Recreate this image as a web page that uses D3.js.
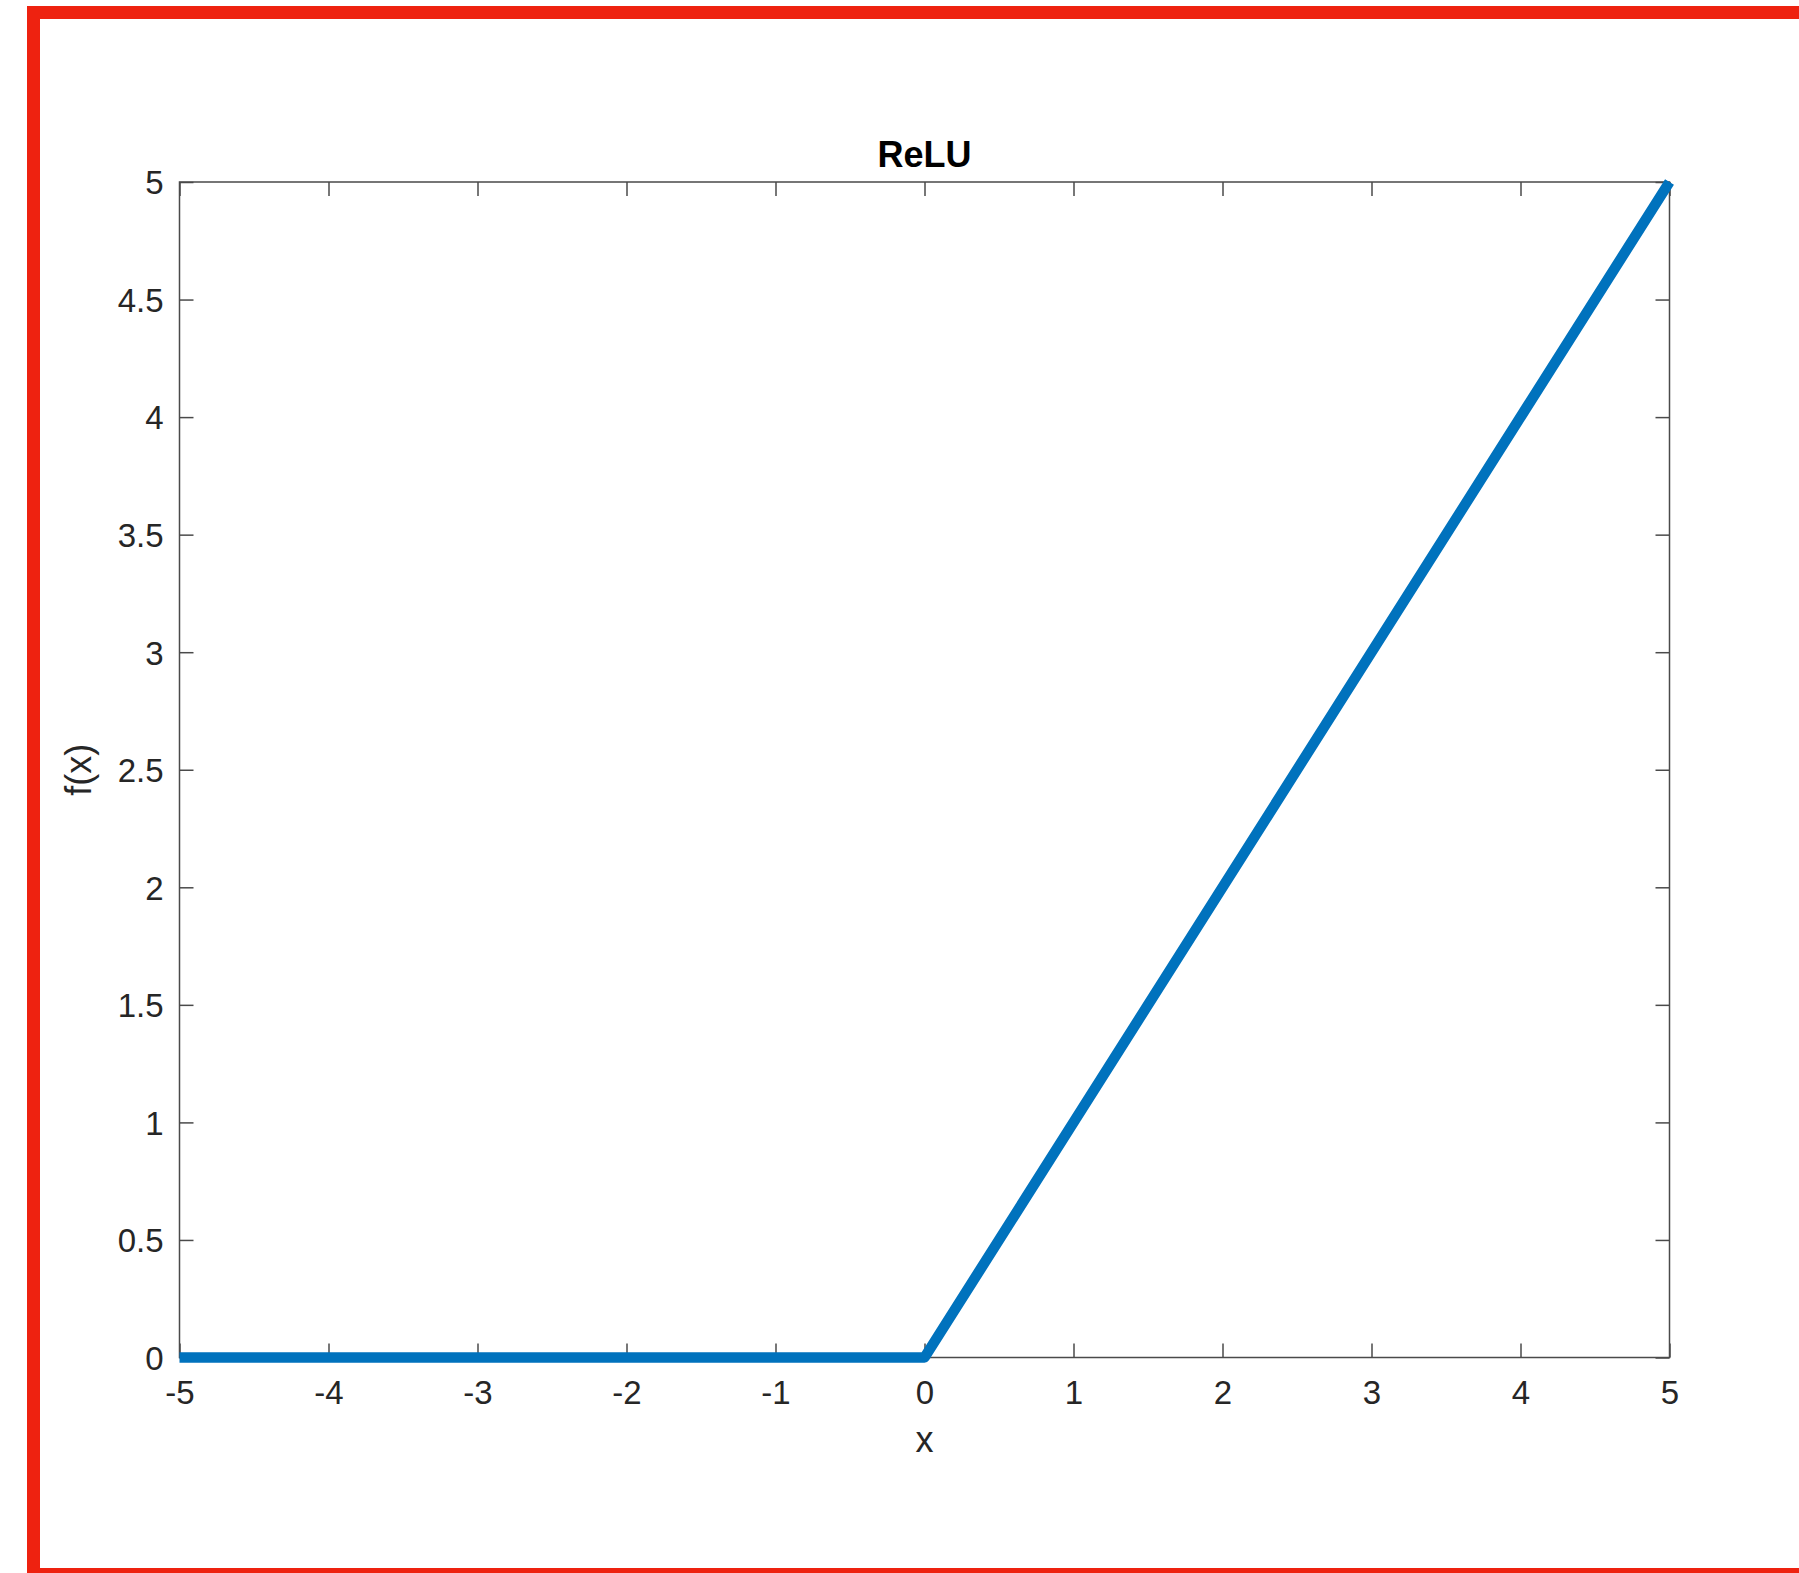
<!DOCTYPE html>
<html>
<head>
<meta charset="utf-8">
<script src="https://cdn.jsdelivr.net/npm/d3@7"></script>
<style>
  html, body { margin: 0; padding: 0; background: #fff; overflow: hidden; }
  svg { display: block; }
  text { font-family: "Liberation Sans", Arial, Helvetica, sans-serif; }
</style>
</head>
<body>
<script>
// ---- data ----
const xValues = [-5, 0, 5];
const yValues = [0, 0, 5];
const xTicks = [-5, -4, -3, -2, -1, 0, 1, 2, 3, 4, 5];
const yTicks = [0, 0.5, 1, 1.5, 2, 2.5, 3, 3.5, 4, 4.5, 5];
const titleText = "ReLU";
const xLabelText = "x";
const yLabelText = "f(x)";

const W = 1799, H = 1573;
const svg = d3.select("body").append("svg").attr("width", W).attr("height", H);

// red frame
svg.append("rect")
  .attr("x", 33.5).attr("y", 12.5)
  .attr("width", 2000).attr("height", 1562)
  .attr("fill", "none").attr("stroke", "#EE2210").attr("stroke-width", 13);

const pLeft = 179.5, pRight = 1669.5, pTop = 182, pBottom = 1357.5;
const x = d3.scaleLinear().domain([-5, 5]).range([pLeft, pRight]);
const y = d3.scaleLinear().domain([0, 5]).range([pBottom, pTop]);

const axisColor = "#4a4a4a";
const textColor = "#262626";
const tickLen = 14;
const fs = 33;

function styleAxis(g) {
  g.select(".domain").remove();
  g.selectAll(".tick line").attr("stroke", axisColor).attr("stroke-width", 1.5);
  g.selectAll(".tick text").attr("fill", textColor).style("font-size", fs + "px");
}

// bottom axis with labels
svg.append("g").attr("transform", `translate(0,${pBottom})`)
  .call(d3.axisBottom(x).tickValues(xTicks).tickSize(-tickLen).tickPadding(23)
    .tickFormat(d => d < 0 ? "-" + Math.abs(d) : String(d)))
  .call(styleAxis)
  .selectAll(".tick text").attr("dy", "0.71em");

// top axis (ticks only)
svg.append("g").attr("transform", `translate(0,${pTop})`)
  .call(d3.axisTop(x).tickValues(xTicks).tickSize(-tickLen).tickFormat(""))
  .call(styleAxis);

// left axis with labels
svg.append("g").attr("transform", `translate(${pLeft},0)`)
  .call(d3.axisLeft(y).tickValues(yTicks).tickSize(-tickLen).tickPadding(16)
    .tickFormat(d3.format("")))
  .call(styleAxis)
  .selectAll(".tick text").attr("dy", "0.36em");

// right axis (ticks only)
svg.append("g").attr("transform", `translate(${pRight},0)`)
  .call(d3.axisRight(y).tickValues(yTicks).tickSize(-tickLen).tickFormat(""))
  .call(styleAxis);

// box
svg.append("rect")
  .attr("x", pLeft).attr("y", pTop)
  .attr("width", pRight - pLeft).attr("height", pBottom - pTop)
  .attr("fill", "none").attr("stroke", axisColor).attr("stroke-width", 1.5);

// line
const pts = xValues.map((v, i) => [v, yValues[i]]);
svg.append("path")
  .datum(pts)
  .attr("d", d3.line().x(d => x(d[0])).y(d => y(d[1])))
  .attr("fill", "none")
  .attr("stroke", "#0072BD")
  .attr("stroke-width", 10.5)
  .attr("stroke-linecap", "butt")
  .attr("stroke-linejoin", "round");

// title
svg.append("text")
  .attr("x", (pLeft + pRight) / 2).attr("y", 166.5)
  .attr("text-anchor", "middle")
  .attr("fill", "#000")
  .style("font-size", "36px").style("font-weight", "bold")
  .text(titleText);

// x label
svg.append("text")
  .attr("x", (pLeft + pRight) / 2).attr("y", 1452)
  .attr("text-anchor", "middle")
  .attr("fill", textColor)
  .style("font-size", "36px")
  .text(xLabelText);

// y label
svg.append("text")
  .attr("transform", `translate(91,${(pTop + pBottom) / 2}) rotate(-90)`)
  .attr("text-anchor", "middle")
  .attr("fill", textColor)
  .style("font-size", "36px")
  .text(yLabelText);
</script>
</body>
</html>
